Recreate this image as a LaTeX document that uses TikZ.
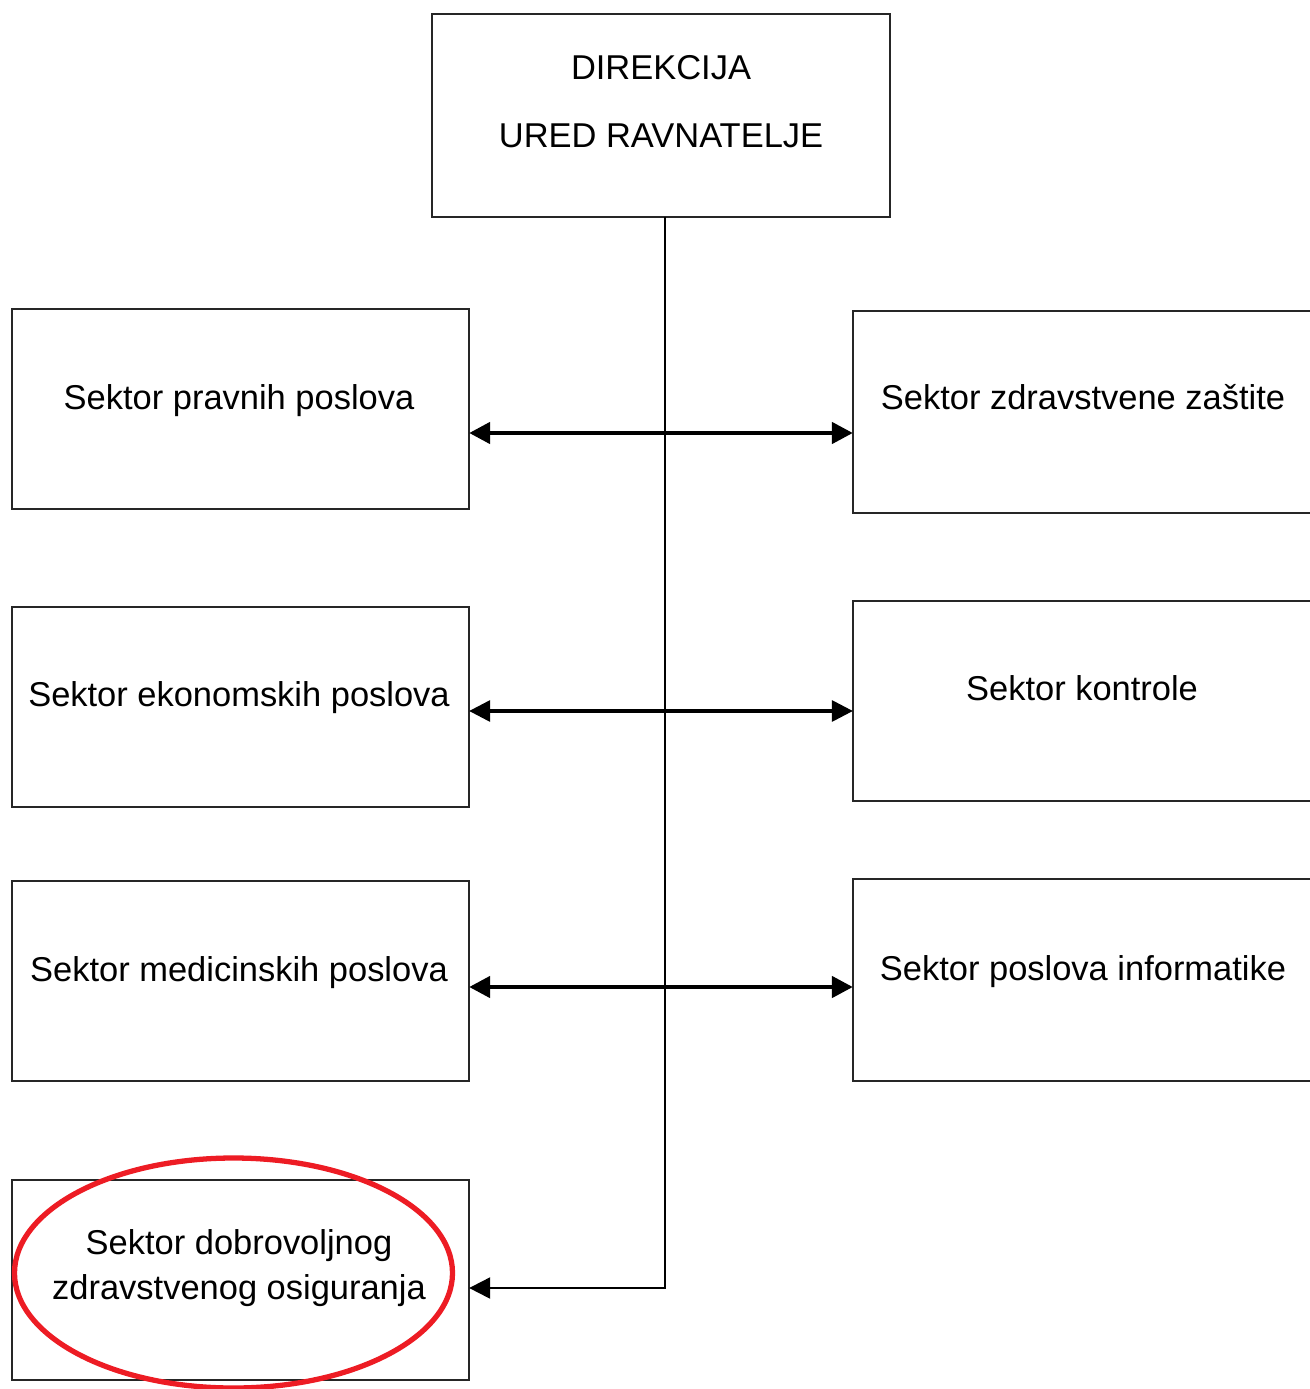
\documentclass[tikz,border=0pt]{standalone}
\usepackage{fontspec}
\setmainfont{Liberation Sans}
\usetikzlibrary{arrows.meta}
\begin{document}
\begin{tikzpicture}[x=0.01cm,y=-0.01cm,
  box/.style={draw=black!85,line width=0.6pt,inner sep=0pt,outer sep=0pt,minimum width=4.57cm,minimum height=2.00cm},
  rbox/.style={box,minimum width=4.60cm},
  txt/.style={anchor=base,inner sep=0pt,font=\fontsize{9.8pt}{12pt}\selectfont},
  tip/.style={-{Triangle[length=6pt,width=6pt]}},
  bitip/.style={{Triangle[length=6pt,width=6pt]}-{Triangle[length=6pt,width=6pt]}},
  heavy/.style={line width=1.3pt},
  medium/.style={line width=0.9pt},
  spine/.style={line width=0.6pt}]
\useasboundingbox (0,0) rectangle (1309,1389);
% boxes
\node[box,minimum width=4.58cm,minimum height=2.03cm] (top) at (661,115.5) {};
\node[box] (L1) at (240.5,409) {};
\node[box] (L2) at (240.5,707) {};
\node[box] (L3) at (240.5,981) {};
\node[box] (L4) at (240.5,1280) {};
\node[rbox,minimum height=2.02cm] (R1) at (1083,412) {};
\node[rbox] (R2) at (1083,701) {};
\node[rbox,minimum height=2.02cm] (R3) at (1083,980) {};
% texts
\node[txt] (t0a) at (661,80) {DIREKCIJA};
\node[txt] (t0b) at (661,148) {URED RAVNATELJE};
\node[txt] (t1) at (239,410) {Sektor pravnih poslova};
\node[txt] (t2) at (239,706) {Sektor ekonomskih poslova};
\node[txt] (t3) at (239,981) {Sektor medicinskih poslova};
\node[txt] (t4a) at (239,1254) {Sektor dobrovoljnog};
\node[txt] (t4b) at (239,1299) {zdravstvenog osiguranja};
\node[txt] (r1) at (1083,410) {Sektor zdravstvene zaštite};
\node[txt] (r2) at (1082,700) {Sektor kontrole};
\node[txt] (r3) at (1083,980) {Sektor poslova informatike};
% spine
\coordinate (sp) at (665,1288);
\draw[spine,tip] (top.south -| sp) -- (sp) -- (L4.east |- sp);
% connectors
\draw[heavy,bitip] (L1.east |- 0,433) -- (R1.west |- 0,433);
\draw[medium,bitip] (L2.east |- 0,711) -- (R2.west |- 0,711);
\draw[heavy,bitip] (L3.east |- 0,987) -- (R3.west |- 0,987);
% highlight
\draw[line width=1.5pt,color={rgb,255:red,237;green,28;blue,36}] (233.5,1273) ellipse [x radius=219, y radius=115];
\end{tikzpicture}
\end{document}
